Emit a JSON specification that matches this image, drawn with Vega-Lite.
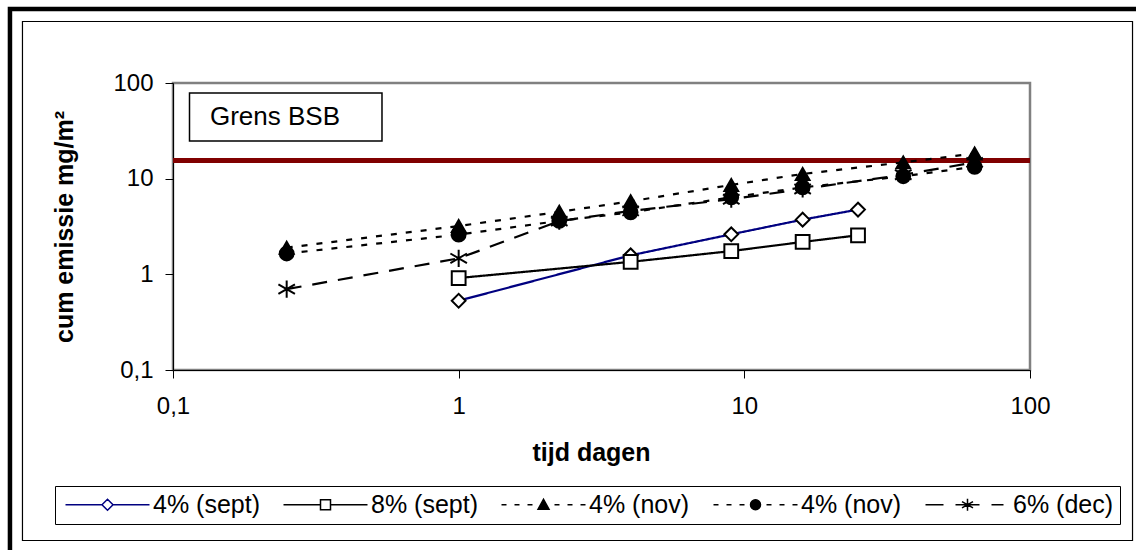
{
  "$schema": "https://vega.github.io/schema/vega-lite/v6.json",
  "width": 857,
  "height": 287,
  "autosize": {"type": "none"},
  "padding": {"left": 173, "top": 83, "right": 106, "bottom": 180},
  "background": "white",
  "config": {
    "font": "Liberation Sans",
    "view": {"stroke": "#808080", "strokeWidth": 2.5},
    "axis": {
      "grid": false, "domainColor": "#000", "tickColor": "#000", "labelColor": "#000", "titleColor": "#000",
      "labelFont": "Liberation Sans", "titleFont": "Liberation Sans", "labelFontSize": 24, "titleFontSize": 25,
      "titleFontWeight": "bold", "tickSize": 8, "domainWidth": 1, "tickWidth": 1, "labelFlush": false, "labelOverlap": false
    }
  },
  "datasets": {
    "main": [
      {"series": "s1", "t": 1, "v": 0.53},
      {"series": "s1", "t": 4, "v": 1.58},
      {"series": "s1", "t": 9, "v": 2.62},
      {"series": "s1", "t": 16, "v": 3.73},
      {"series": "s1", "t": 25, "v": 4.75},
      {"series": "s2", "t": 1, "v": 0.915},
      {"series": "s2", "t": 4, "v": 1.35},
      {"series": "s2", "t": 9, "v": 1.75},
      {"series": "s2", "t": 16, "v": 2.18},
      {"series": "s2", "t": 25, "v": 2.56},
      {"series": "s3", "t": 0.25, "v": 1.9},
      {"series": "s3", "t": 1, "v": 3.2},
      {"series": "s3", "t": 2.25, "v": 4.5},
      {"series": "s3", "t": 4, "v": 5.8},
      {"series": "s3", "t": 9, "v": 8.6},
      {"series": "s3", "t": 16, "v": 11.2},
      {"series": "s3", "t": 36, "v": 14.8},
      {"series": "s3", "t": 64, "v": 18.3},
      {"series": "s4", "t": 0.25, "v": 1.65},
      {"series": "s4", "t": 1, "v": 2.6},
      {"series": "s4", "t": 2.25, "v": 3.62},
      {"series": "s4", "t": 4, "v": 4.45},
      {"series": "s4", "t": 9, "v": 6.38},
      {"series": "s4", "t": 16, "v": 8.1},
      {"series": "s4", "t": 36, "v": 10.6},
      {"series": "s4", "t": 64, "v": 13.3},
      {"series": "s5", "t": 0.25, "v": 0.7},
      {"series": "s5", "t": 1, "v": 1.47},
      {"series": "s5", "t": 2.25, "v": 3.6},
      {"series": "s5", "t": 4, "v": 4.6},
      {"series": "s5", "t": 9, "v": 6.1},
      {"series": "s5", "t": 16, "v": 7.8},
      {"series": "s5", "t": 36, "v": 11.0},
      {"series": "s5", "t": 64, "v": 14.8}
    ]
  },
  "layer": [
    {
      "data": {"values": [{}]},
      "mark": {"type": "rect", "fill": "transparent", "stroke": "#000", "strokeWidth": 4.5},
      "encoding": {
        "x": {"datum": 0.02687, "type": "quantitative", "scale": {"type": "log", "domain": [0.1, 100]},
          "axis": {"values": [0.1, 1, 10, 100], "title": "tijd dagen", "labelExpr": "replace(format(datum.value,'~g'),'.',',')", "labelPadding": 16, "titlePadding": 22, "titleX": 418}},
        "x2": {"datum": 285},
        "y": {"datum": 593.6, "type": "quantitative", "scale": {"type": "log", "domain": [0.1, 100]},
          "axis": {"values": [0.1, 1, 10, 100], "title": "cum emissie mg/m²", "labelExpr": "replace(format(datum.value,'~g'),'.',',')", "labelPadding": 12, "titlePadding": 35}},
        "y2": {"datum": 0.000812}
      }
    },
    {
      "data": {"values": [{}]},
      "mark": {"type": "rect", "fill": "transparent", "stroke": "#000", "strokeWidth": 1.2},
      "encoding": {
        "x": {"datum": 0.02972, "type": "quantitative"},
        "x2": {"datum": 228.5},
        "y": {"datum": 439.4, "type": "quantitative"},
        "y2": {"datum": 0.001651}
      }
    },
    {
      "data": {"values": [{}]},
      "mark": {"type": "rect", "fill": "white", "stroke": "#000", "strokeWidth": 1.5},
      "encoding": {
        "x": {"datum": 0.11423, "type": "quantitative"},
        "x2": {"datum": 0.539},
        "y": {"datum": 78.6, "type": "quantitative"},
        "y2": {"datum": 24.76}
      }
    },
    {
      "data": {"values": [{}]},
      "mark": {"type": "text", "text": "Grens BSB", "align": "left", "baseline": "middle", "fontSize": 26, "font": "Liberation Sans", "color": "#000"},
      "encoding": {
        "x": {"datum": 0.1347, "type": "quantitative"},
        "y": {"datum": 43.6, "type": "quantitative"}
      }
    },
    {
      "data": {"values": [{}]},
      "mark": {"type": "rule", "color": "#800000", "strokeWidth": 5},
      "encoding": {
        "y": {"datum": 15.5, "type": "quantitative"}
      }
    },
    {
      "data": {"name": "main"},
      "mark": {"type": "line", "strokeWidth": 2.2},
      "encoding": {
        "x": {"field": "t", "type": "quantitative"},
        "y": {"field": "v", "type": "quantitative"},
        "color": {"field": "series", "type": "nominal", "scale": {"domain": ["s1", "s2", "s3", "s4", "s5"], "range": ["#000080", "#000000", "#000000", "#000000", "#000000"]}, "legend": null},
        "strokeDash": {"field": "series", "type": "nominal", "scale": {"domain": ["s1", "s2", "s3", "s4", "s5"], "range": [[1, 0], [1, 0], [6, 9], [6, 9], [15, 11]]}, "legend": null}
      }
    },
    {
      "data": {"name": "main"},
      "mark": {"type": "point", "filled": true, "opacity": 1, "stroke": "#000", "strokeWidth": 2, "size": 190},
      "encoding": {
        "x": {"field": "t", "type": "quantitative"},
        "y": {"field": "v", "type": "quantitative"},
        "shape": {"field": "series", "type": "nominal", "scale": {"domain": ["s1", "s2", "s3", "s4", "s5"], "range": ["diamond", "square", "triangle-up", "circle", "M0,-1.25V1.25M-1.2,-0.7L1.2,0.7M-1.2,0.7L1.2,-0.7"]}, "legend": null},
        "fill": {"field": "series", "type": "nominal", "scale": {"domain": ["s1", "s2", "s3", "s4", "s5"], "range": ["#ffffff", "#ffffff", "#000000", "#000000", "transparent"]}, "legend": null}
      }
    },
    {
      "data": {"name": "main"},
      "transform": [{"filter": "datum.v < 0"}],
      "mark": {"type": "point", "filled": true, "opacity": 1, "size": 400, "strokeWidth": 1.5},
      "encoding": {
        "x": {"field": "t", "type": "quantitative"},
        "y": {"field": "v", "type": "quantitative"},
        "shape": {"field": "series", "type": "nominal",
          "scale": {"domain": ["s1", "s2", "s3", "s4", "s5"], "range": [
            "M-4.2,0H-0.55M0.55,0H4.2M-0.55,0L0,-0.55L0.55,0L0,0.55Z",
            "M-4.2,0H-0.5M0.5,0H4.2M-0.5,-0.5H0.5V0.5H-0.5Z",
            "M-4.2,0H-3.7M-2.9,0H-2.4M-1.6,0H-1.1M-0.55,0.45L0,-0.55L0.55,0.45ZM1.1,0H1.6M2.4,0H2.9M3.7,0H4.2",
            "M-4.2,0H-3.7M-2.9,0H-2.4M-1.6,0H-1.1M-0.5,0A0.5,0.5,0,1,0,0.5,0A0.5,0.5,0,1,0,-0.5,0ZM1.1,0H1.6M2.4,0H2.9M3.7,0H4.2",
            "M-4.2,0H-2.4M-1.2,0H1.2M2.4,0H3.6M0,-0.6V0.6M-0.55,-0.32L0.55,0.32M-0.55,0.32L0.55,-0.32"
          ]},
          "legend": {"title": null, "orient": "none", "legendX": -118, "legendY": 403, "direction": "horizontal", "columns": 5,
            "labelExpr": "datum.label=='s1'?'4% (sept)':datum.label=='s2'?'8% (sept)':datum.label=='s5'?'6% (dec)':'4% (nov)'",
            "labelFontSize": 25, "labelFont": "Liberation Sans", "labelColor": "#000", "symbolSize": 400, "symbolStrokeWidth": 1.5,
            "symbolOffset": 34, "labelOffset": 33, "columnPadding": 19, "padding": 6, "strokeColor": "#000", "fillColor": "#fff"}},
        "stroke": {"field": "series", "type": "nominal", "scale": {"domain": ["s1", "s2", "s3", "s4", "s5"], "range": ["#000080", "#000000", "#000000", "#000000", "#000000"]},
          "legend": {"title": null, "orient": "none", "legendX": -118, "legendY": 403, "direction": "horizontal", "columns": 5,
            "labelExpr": "datum.label=='s1'?'4% (sept)':datum.label=='s2'?'8% (sept)':datum.label=='s5'?'6% (dec)':'4% (nov)'",
            "labelFontSize": 25, "labelFont": "Liberation Sans", "labelColor": "#000", "symbolSize": 400, "symbolStrokeWidth": 1.5,
            "symbolOffset": 34, "labelOffset": 33, "columnPadding": 19, "padding": 6, "strokeColor": "#000", "fillColor": "#fff"}},
        "fill": {"field": "series", "type": "nominal", "scale": {"domain": ["s1", "s2", "s3", "s4", "s5"], "range": ["#ffffff", "#ffffff", "#000000", "#000000", "transparent"]},
          "legend": {"title": null, "orient": "none", "legendX": -118, "legendY": 403, "direction": "horizontal", "columns": 5,
            "labelExpr": "datum.label=='s1'?'4% (sept)':datum.label=='s2'?'8% (sept)':datum.label=='s5'?'6% (dec)':'4% (nov)'",
            "labelFontSize": 25, "labelFont": "Liberation Sans", "labelColor": "#000", "symbolSize": 400, "symbolStrokeWidth": 1.5,
            "symbolOffset": 34, "labelOffset": 33, "columnPadding": 19, "padding": 6, "strokeColor": "#000", "fillColor": "#fff"}}
      }
    }
  ],
  "resolve": {"scale": {"shape": "independent", "fill": "independent", "stroke": "independent"}}
}
